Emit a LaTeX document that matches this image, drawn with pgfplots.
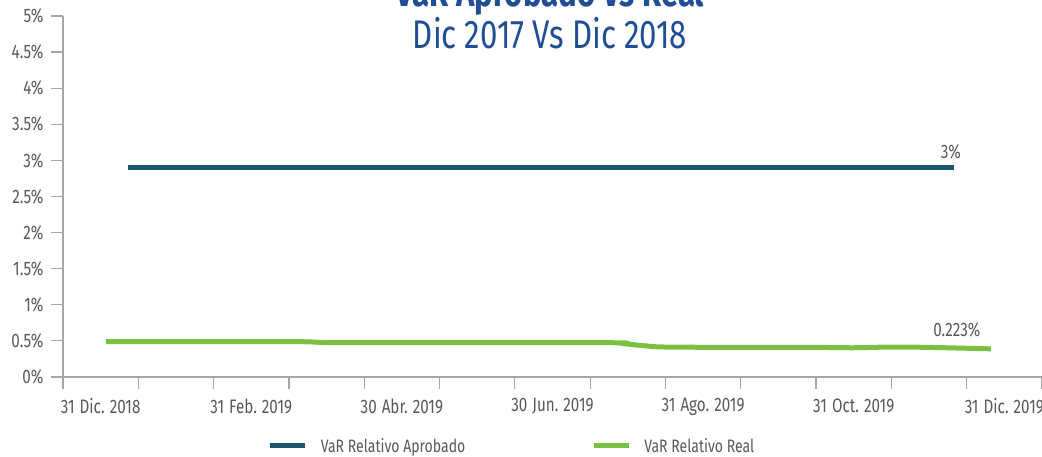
\documentclass[border=0pt]{standalone}
\usepackage{fontspec}
\setmainfont{Fira Sans}[FakeStretch=0.78]
\usepackage{pgfplots}
\pgfplotsset{compat=1.18}
\definecolor{darkline}{HTML}{1D5470}
\definecolor{greenline}{HTML}{7AC143}
\definecolor{titleblue}{HTML}{1F4E96}
\definecolor{axgray}{HTML}{A6A6A6}
\definecolor{txtgray}{HTML}{595959}
\newcommand{\gp}{\hspace{5pt}}
\begin{document}
\begin{tikzpicture}
\begin{axis}[
  name=ax, at={(0,0)}, anchor=south west,
  scale only axis, width=979pt, height=361pt,
  xmin=0, xmax=13, ymin=0, ymax=5,
  axis x line=bottom, axis y line=left,
  axis line style={axgray, line width=1.2pt, -},
  tick align=outside, major tick length=12pt,
  tick style={axgray, line width=1.2pt},
  xtick={0,...,13}, xticklabels={},
  extra x ticks={0.5,2.5,4.5,6.5,8.5,10.5,12.5},
  extra x tick labels={31\gp Dic.\gp 2018,31\gp Feb.\gp 2019,30\gp Abr.\gp 2019,30\gp Jun.\gp 2019,31\gp Ago.\gp 2019,31\gp Oct.\gp 2019,31\gp Dic.\gp 2019},
  extra x tick style={major tick length=0pt, xticklabel style={yshift=-18pt}},
  ytick={0,0.5,...,5},
  yticklabel={\pgfmathprintnumber{\tick}\%},
  /pgf/number format/assume math mode=true,
  ticklabel style={font=\fontsize{19.5}{21}\selectfont, text=txtgray},
  yticklabel style={xshift=-4pt},
  legend columns=2,
  legend style={at={(0.209,-0.191)}, anchor=west, draw=none, fill=none,
    font=\fontsize{18}{20}\selectfont, text=txtgray, inner sep=0pt,
    /tikz/every even column/.append style={column sep=124pt}},
  legend image code/.code={\draw[#1, line width=5pt] (0pt,0pt) -- (35pt,0pt);},
  clip=false,
]
\addplot[darkline, line width=5pt] coordinates {(0.86,2.9) (11.83,2.9)};
\addlegendentry{\hspace*{11pt}VaR Relativo Aprobado}
\addplot[greenline, line width=5pt, smooth] coordinates {
(0.57,0.49) (3.0,0.49) (3.4,0.48) (3.8,0.475) (7.2,0.475) (7.45,0.46) (7.75,0.43) (8.0,0.415) (9,0.41) (10,0.41) (10.5,0.405) (11,0.415) (11.5,0.41) (12.32,0.39)};
\addlegendentry{\hspace*{11pt}VaR Relativo Real}
\node[text=txtgray, font=\fontsize{19.5}{21}\selectfont] at (axis cs:11.79,3.12) {3\%};
\node[text=txtgray, font=\fontsize{19.5}{21}\selectfont] at (axis cs:11.87,0.65) {0.223\%};
\end{axis}
\node[anchor=base, text=titleblue, font=\fontsize{40}{42}\selectfont\bfseries] at (487pt,370pt) {VaR Aprobado Vs Real};
\node[anchor=base, text=titleblue, font=\fontsize{40}{42}\selectfont] at (487pt,328pt) {Dic 2017 Vs Dic 2018};
\pgfresetboundingbox
\path[use as bounding box] (-63pt,-80pt) rectangle (979pt,377pt);
\end{tikzpicture}
\end{document}
